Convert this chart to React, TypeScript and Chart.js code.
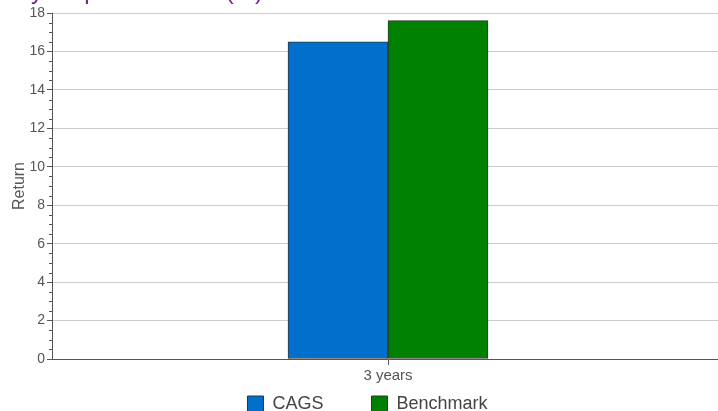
import React, { useEffect, useRef } from 'react';
import { Chart, registerables } from 'chart.js';

Chart.register(...registerables);

const chartTitle = '3 year performance (%)';
const yAxisTitle = 'Return';
const categories = ['3 years'];
const seriesNames = ['CAGS', 'Benchmark'];
const cagsValues = [16.5];
const benchmarkValues = [17.6];
const yMin = 0;
const yMax = 18;
const yStep = 2;
const yMinorPerMajor = 4;

const minorTicksPlugin = {
  id: 'minorTicks',
  afterDraw(chart: any) {
    const y = chart.scales.y;
    const ctx = chart.ctx;
    const left = chart.chartArea.left;
    const minorStep = yStep / yMinorPerMajor;
    const count = Math.round((yMax - yMin) / minorStep);
    ctx.save();
    ctx.strokeStyle = '#555';
    ctx.lineWidth = 1;
    ctx.beginPath();
    for (let i = 0; i <= count; i++) {
      if (i % yMinorPerMajor === 0) continue;
      const v = yMin + i * minorStep;
      const py = Math.round(y.getPixelForValue(v)) + 0.5;
      ctx.moveTo(left - 3, py);
      ctx.lineTo(left, py);
    }
    ctx.stroke();
    ctx.restore();
  },
};

const legendShiftPlugin = {
  id: 'legendShift',
  afterLayout(chart: any) {
    const lg = chart.legend;
    if (!lg) return;
    const pad = lg.options.labels.padding;
    const h = lg.height;
    lg.top = chart.chartArea.bottom + 36 - pad;
    lg.bottom = lg.top + h;
  },
};

export default function App() {
  const ref = useRef<HTMLCanvasElement | null>(null);

  useEffect(() => {
    if (!ref.current) return;
    Chart.defaults.font.family = '"Liberation Sans", Arial, Helvetica, sans-serif';
    const chart = new Chart(ref.current, {
      type: 'bar',
      data: {
        labels: categories,
        datasets: [
          {
            label: seriesNames[0],
            data: cagsValues,
            backgroundColor: '#0070CC',
            borderColor: '#333333',
            borderWidth: 1,
            borderSkipped: false,
            barThickness: 100,
          },
          {
            label: seriesNames[1],
            data: benchmarkValues,
            backgroundColor: '#008000',
            borderColor: '#333333',
            borderWidth: 1,
            borderSkipped: false,
            barThickness: 100,
          },
        ],
      },
      options: {
        animation: false,
        responsive: false,
        layout: { padding: { left: 11, right: 0, top: 0, bottom: 0 } },
        plugins: {
          title: {
            display: true,
            text: chartTitle,
            align: 'start',
            color: '#7B1FA2',
            font: { size: 24, weight: 'normal' },
            padding: { top: 8.3, bottom: 5.9 },
          },
          legend: {
            position: 'bottom',
            labels: {
              boxWidth: 16,
              boxHeight: 16,
              padding: 48,
              color: '#444',
              font: { size: 18 },
            },
          },
          tooltip: { enabled: false },
        },
        scales: {
          x: {
            grid: {
              display: true,
              drawOnChartArea: false,
              offset: false,
              tickLength: 6,
              tickColor: '#555',
            },
            border: { color: '#555' },
            ticks: { color: '#555', font: { size: 15 }, padding: 1.5 },
            afterFit: (s: any) => {
              s.height = 30;
            },
          },
          y: {
            min: yMin,
            max: yMax,
            ticks: { stepSize: yStep, color: '#555', font: { size: 14 }, padding: 2 },
            grid: {
              color: (c: any) => (c.tick && c.tick.value === 0 ? 'rgba(0,0,0,0)' : '#cccccc'),
              tickColor: '#555',
              tickLength: 5,
            },
            border: { color: '#555' },
            title: {
              display: true,
              text: yAxisTitle,
              color: '#555',
              font: { size: 16, lineHeight: 1.1 },
              padding: 0,
            },
            afterFit: (s: any) => {
              s.width = 41;
            },
          },
        },
      },
      plugins: [minorTicksPlugin, legendShiftPlugin],
    } as any);
    return () => chart.destroy();
  }, []);

  return (
    <div
      style={{
        position: 'fixed',
        left: 0,
        top: 0,
        width: 718,
        height: 411,
        overflow: 'hidden',
        background: '#fff',
      }}
    >
      <div style={{ position: 'absolute', left: 0, top: -30, width: 724, height: 495 }}>
        <canvas ref={ref} width={724} height={495} style={{ display: 'block' }} />
      </div>
    </div>
  );
}
